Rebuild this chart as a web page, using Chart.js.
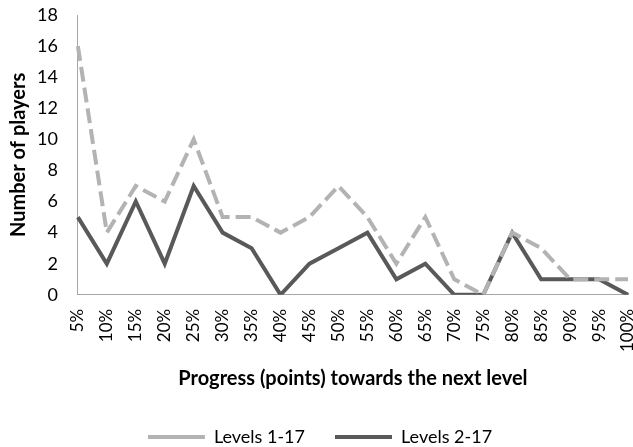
<!DOCTYPE html>
<html lang="en">
<head>
    <meta charset="UTF-8">
    <title>Progress towards the next level</title>
    <script src="https://cdn.jsdelivr.net/npm/chart.js"></script>
    <style>
        body, html {
            margin: 0;
            padding: 0;
            background: #ffffff;
        }

        .chart-box {
            width: 633px;
            height: 447px;
        }
    </style>
</head>
<body>

    <div class="chart-box">
        <canvas id="progressChart" width="633" height="447"></canvas>
    </div>

    <script>
        // Данные графика
        var categories = ['5%', '10%', '15%', '20%', '25%', '30%', '35%', '40%', '45%', '50%',
                          '55%', '60%', '65%', '70%', '75%', '80%', '85%', '90%', '95%', '100%'];
        var levels1to17 = [16, 4, 7, 6, 10, 5, 5, 4, 5, 7, 5, 2, 5, 1, 0, 4, 3, 1, 1, 1];
        var levels2to17 = [5, 2, 6, 2, 7, 4, 3, 0, 2, 3, 4, 1, 2, 0, 0, 4, 1, 1, 1, 0];

        var fontFamily = 'Lato, "Open Sans", sans-serif';
        var axisColor = '#a6a6a6';

        var canvas = document.getElementById('progressChart');
        var chart = new Chart(canvas, {
            type: 'line',
            data: {
                labels: categories,
                datasets: [{
                    label: 'Levels 1-17',
                    data: levels1to17,
                    borderColor: '#b3b3b3',
                    borderWidth: 4,
                    borderDash: [15, 6],
                    pointRadius: 0,
                    tension: 0,
                    fill: false
                }, {
                    label: 'Levels 2-17',
                    data: levels2to17,
                    borderColor: '#595959',
                    borderWidth: 4,
                    pointRadius: 0,
                    tension: 0,
                    fill: false
                }]
            },
            options: {
                responsive: false,
                animation: false,
                layout: {
                    padding: { left: 7, right: 0, top: 0, bottom: -9 }
                },
                plugins: {
                    tooltip: { enabled: false },
                    legend: {
                        position: 'bottom',
                        labels: {
                            usePointStyle: true,
                            pointStyle: 'line',
                            pointStyleWidth: 57,
                            boxWidth: 57,
                            boxHeight: 19,
                            padding: 30,
                            color: '#000000',
                            font: { family: fontFamily, size: 18 }
                        }
                    }
                },
                scales: {
                    x: {
                        offset: false,
                        grid: { display: false, drawTicks: false },
                        border: { display: true, color: axisColor, width: 1 },
                        ticks: {
                            color: '#000000',
                            maxRotation: 90,
                            minRotation: 90,
                            padding: 14,
                            autoSkip: false,
                            font: { family: fontFamily, size: 17 }
                        },
                        title: {
                            display: true,
                            text: 'Progress (points) towards the next level',
                            color: '#000000',
                            padding: { top: 15, bottom: 7 },
                            font: { family: fontFamily, size: 20, weight: 'bold' }
                        },
                        afterFit: function (scale) {
                            // убираем лишние отступы, которые Chart.js добавляет сам
                            scale.height -= 14;
                            scale.paddingLeft = 0;
                            scale.paddingRight = 5;
                        }
                    },
                    y: {
                        min: 0,
                        max: 18,
                        grid: { display: false, drawTicks: false },
                        border: { display: true, color: axisColor, width: 1 },
                        ticks: {
                            stepSize: 2,
                            color: '#000000',
                            padding: 20,
                            font: { family: fontFamily, size: 18 }
                        },
                        title: {
                            display: true,
                            text: 'Number of players',
                            color: '#000000',
                            padding: { top: 0, bottom: 6 },
                            font: { family: fontFamily, size: 20, weight: 'bold' }
                        },
                        afterFit: function (scale) {
                            scale.width -= 20;
                            scale.paddingTop = 15;
                            scale.paddingBottom = 0;
                        }
                    }
                }
            }
        });
    </script>
</body>
</html>
